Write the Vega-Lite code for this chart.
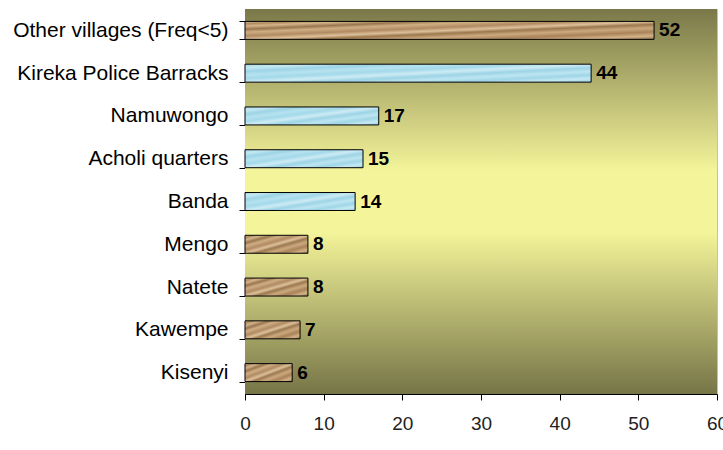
{
  "$schema": "https://vega.github.io/schema/vega-lite/v6.json",
  "width": 472,
  "height": 385,
  "autosize": {"type": "none"},
  "padding": {"left": 245, "top": 9, "right": 6, "bottom": 56},
  "background": "white",
  "config": {
    "view": {"stroke": "#b9bde0", "strokeWidth": 1},
    "font": "Liberation Sans"
  },
  "data": {
    "values": [
      {"village": "Other villages (Freq<5)", "n": 52, "tex": "brown"},
      {"village": "Kireka Police Barracks", "n": 44, "tex": "blue"},
      {"village": "Namuwongo", "n": 17, "tex": "blue"},
      {"village": "Acholi quarters", "n": 15, "tex": "blue"},
      {"village": "Banda", "n": 14, "tex": "blue"},
      {"village": "Mengo", "n": 8, "tex": "brown"},
      {"village": "Natete", "n": 8, "tex": "brown"},
      {"village": "Kawempe", "n": 7, "tex": "brown"},
      {"village": "Kisenyi", "n": 6, "tex": "brown"}
    ]
  },
  "encoding": {
    "y": {
      "field": "village",
      "type": "nominal",
      "sort": ["Other villages (Freq<5)", "Kireka Police Barracks", "Namuwongo", "Acholi quarters", "Banda", "Mengo", "Natete", "Kawempe", "Kisenyi"],
      "scale": {"paddingInner": 0.58, "paddingOuter": 0.29},
      "axis": {
        "title": null,
        "labelFontSize": 21,
        "labelColor": "#000000",
        "labelPadding": 11,
        "labelLimit": 300,
        "tickBand": "extent",
        "tickSize": 6,
        "tickColor": "#000000",
        "domainColor": "#000000",
        "labelFont": "Liberation Sans"
      }
    }
  },
  "layer": [
    {
      "data": {"values": [{"a": 0, "b": 60}]},
      "mark": {
        "type": "rect",
        "fill": {
          "gradient": "linear",
          "x1": 0, "y1": 0, "x2": 0, "y2": 1,
          "stops": [
            {"offset": 0, "color": "#7a7849"},
            {"offset": 0.42, "color": "#f4f49a"},
            {"offset": 0.58, "color": "#f4f49a"},
            {"offset": 1, "color": "#767547"}
          ]
        }
      },
      "encoding": {
        "x": {"field": "a", "type": "quantitative"},
        "x2": {"field": "b"},
        "y": null
      }
    },
    {
      "transform": [{"filter": "datum.tex === 'brown'"}],
      "mark": {
        "type": "bar",
        "stroke": "#000000",
        "strokeWidth": 1,
        "fill": {
          "gradient": "linear",
          "x1": 0, "y1": 0, "x2": 1, "y2": 1,
          "stops": [
            {"offset": 0, "color": "#d6b890"},
            {"offset": 0.07, "color": "#b08a60"},
            {"offset": 0.13, "color": "#d4b48a"},
            {"offset": 0.22, "color": "#9a7650"},
            {"offset": 0.3, "color": "#cfae84"},
            {"offset": 0.41, "color": "#b18a62"},
            {"offset": 0.5, "color": "#dcc09a"},
            {"offset": 0.58, "color": "#9c784f"},
            {"offset": 0.68, "color": "#cba97e"},
            {"offset": 0.79, "color": "#aa8259"},
            {"offset": 0.9, "color": "#d2b288"},
            {"offset": 1, "color": "#94704a"}
          ]
        }
      },
      "encoding": {
        "x": {
          "field": "n",
          "type": "quantitative",
          "scale": {"domain": [0, 60]},
          "axis": {
            "title": null,
            "values": [0, 10, 20, 30, 40, 50, 60],
            "grid": false,
            "labelFontSize": 19,
            "labelColor": "#222222",
            "labelPadding": 14,
            "tickSize": 6,
            "tickColor": "#000000",
            "domainColor": "#000000",
            "labelFlush": false,
            "labelFont": "Liberation Sans"
          }
        }
      }
    },
    {
      "transform": [{"filter": "datum.tex === 'blue'"}],
      "mark": {
        "type": "bar",
        "stroke": "#000000",
        "strokeWidth": 1,
        "fill": {
          "gradient": "linear",
          "x1": 0, "y1": 0, "x2": 1, "y2": 1,
          "stops": [
            {"offset": 0, "color": "#a6d9ea"},
            {"offset": 0.1, "color": "#c4e8f2"},
            {"offset": 0.2, "color": "#9dd4e6"},
            {"offset": 0.3, "color": "#b6e2ef"},
            {"offset": 0.4, "color": "#a3d9ea"},
            {"offset": 0.5, "color": "#cdebf4"},
            {"offset": 0.6, "color": "#9dd4e6"},
            {"offset": 0.7, "color": "#bde5f1"},
            {"offset": 0.8, "color": "#a0d6e7"},
            {"offset": 0.9, "color": "#c6e9f3"},
            {"offset": 1, "color": "#96d0e4"}
          ]
        }
      },
      "encoding": {
        "x": {"field": "n", "type": "quantitative"}
      }
    },
    {
      "mark": {
        "type": "text",
        "align": "left",
        "baseline": "middle",
        "dx": 5,
        "fontSize": 19,
        "fontWeight": "bold",
        "font": "Liberation Sans",
        "color": "#000000"
      },
      "encoding": {
        "x": {"field": "n", "type": "quantitative"},
        "text": {"field": "n", "type": "quantitative"}
      }
    }
  ]
}
